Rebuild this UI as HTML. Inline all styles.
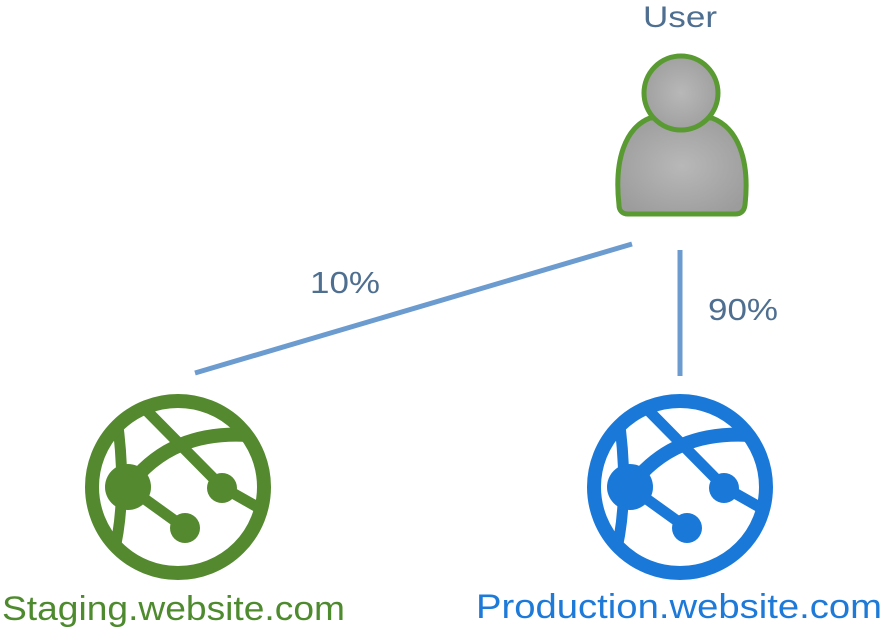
<!DOCTYPE html>
<html><head><style>
body{margin:0;width:884px;height:636px;background:#fff;overflow:hidden;font-family:"Liberation Sans",sans-serif}
</style></head><body>
<svg width="884" height="636" xmlns="http://www.w3.org/2000/svg">
<defs>
<radialGradient id="g" cx="50%" cy="50%" r="60%"><stop offset="0" stop-color="#b8b8b8"/><stop offset="1" stop-color="#9c9c9c"/></radialGradient>
<clipPath id="c"><circle cx="0" cy="0" r="86"/></clipPath>
<g id="globe">
<g clip-path="url(#c)">
<path d="M-62 -75 C-55 -30 -52 30 -68 80" fill="none" stroke="currentColor" stroke-width="11"/>
<path d="M-50 0 C-20 -40 20 -55 70 -52" fill="none" stroke="currentColor" stroke-width="14"/>
<path d="M-33 -78 L44 0 L90 26" fill="none" stroke="currentColor" stroke-width="11"/>
<path d="M-50 0 L7 41" fill="none" stroke="currentColor" stroke-width="11"/>
</g>
<circle cx="0" cy="0" r="86" fill="none" stroke="currentColor" stroke-width="14"/>
<circle cx="-50" cy="0" r="23" fill="currentColor"/>
<circle cx="44" cy="1" r="15" fill="currentColor"/>
<circle cx="7" cy="41" r="15" fill="currentColor"/>
</g>
</defs>
<text x="643" y="27" font-size="30" fill="#4f6f91" textLength="74" lengthAdjust="spacingAndGlyphs">User</text>
<path d="M619 205 C614 160 625 128 650 118 L712 118 C738 128 750 160 745 205 C744 212 740 214 735 214 L628 214 C622 214 619 210 619 205 Z" fill="url(#g)" stroke="#5a9a32" stroke-width="5"/>
<circle cx="681" cy="93" r="37" fill="url(#g)" stroke="#5a9a32" stroke-width="5"/>
<line x1="195" y1="373" x2="632" y2="244" stroke="#6b9bcf" stroke-width="5"/>
<line x1="680" y1="250" x2="680" y2="376" stroke="#6b9bcf" stroke-width="5"/>
<text x="310" y="293" font-size="31" fill="#4f6f91" textLength="70" lengthAdjust="spacingAndGlyphs">10%</text>
<text x="708" y="320" font-size="31" fill="#4f6f91" textLength="70" lengthAdjust="spacingAndGlyphs">90%</text>
<use href="#globe" x="178" y="487" style="color:#54892f"/>
<use href="#globe" x="680" y="487" style="color:#1a79d8"/>
<text x="2" y="620" font-size="34" fill="#4e8a2e" textLength="343" lengthAdjust="spacingAndGlyphs">Staging.website.com</text>
<text x="476" y="618" font-size="34" fill="#1e7ad8" textLength="406" lengthAdjust="spacingAndGlyphs">Production.website.com</text>
</svg>
</body></html>
